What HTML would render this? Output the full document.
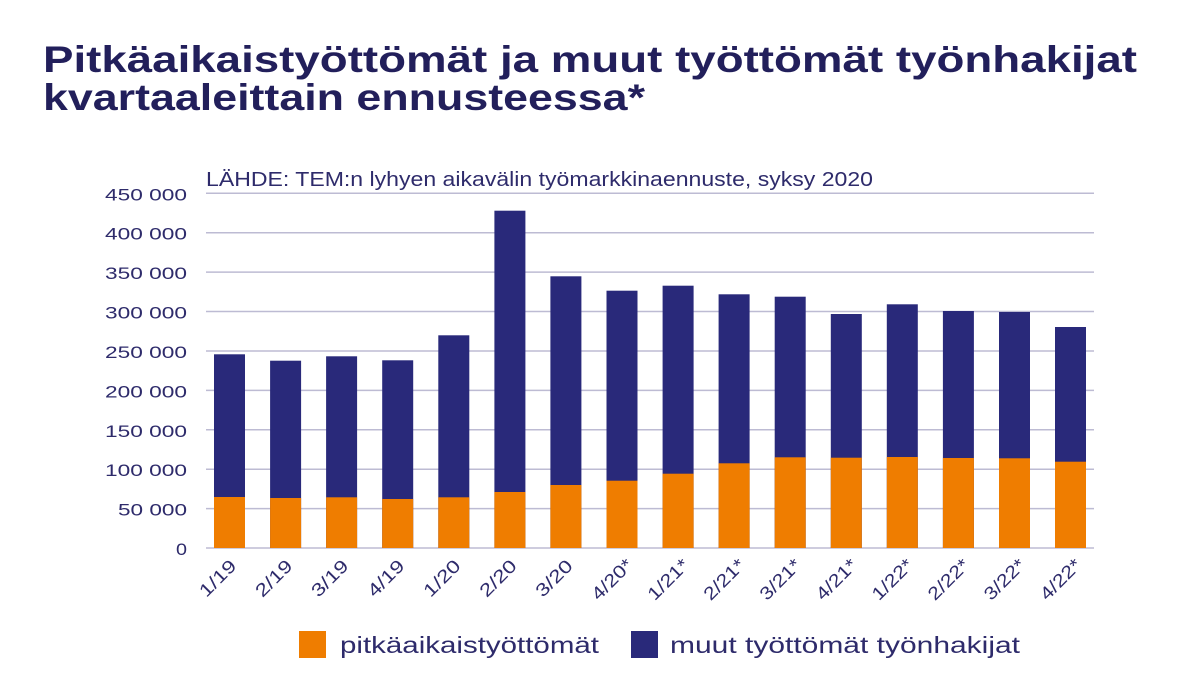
<!DOCTYPE html>
<html>
<head>
<meta charset="utf-8">
<style>
  html,body{margin:0;padding:0;background:#ffffff;}
  svg{display:block;}
  text{font-family:"Liberation Sans", sans-serif;}
</style>
</head>
<body>
<svg width="1200" height="675" viewBox="0 0 1200 675" xmlns="http://www.w3.org/2000/svg">
  <rect x="0" y="0" width="1200" height="675" fill="#ffffff"/>

  <!-- Title -->
  <text x="43" y="72" font-size="37" font-weight="bold" fill="#221f5b" textLength="1094" lengthAdjust="spacingAndGlyphs">Pitkäaikaistyöttömät ja muut työttömät työnhakijat</text>
  <text x="43" y="110" font-size="37" font-weight="bold" fill="#221f5b" textLength="602" lengthAdjust="spacingAndGlyphs">kvartaaleittain ennusteessa*</text>

  <!-- Source -->
  <text x="206" y="186" font-size="20" fill="#2e2b6b" textLength="667" lengthAdjust="spacingAndGlyphs">LÄHDE: TEM:n lyhyen aikavälin työmarkkinaennuste, syksy 2020</text>

  <!-- Gridlines -->
  <g stroke="#bdbbd3" stroke-width="1.5">
    <line x1="206" y1="193.3" x2="1094" y2="193.3"/>
    <line x1="206" y1="232.7" x2="1094" y2="232.7"/>
    <line x1="206" y1="272.1" x2="1094" y2="272.1"/>
    <line x1="206" y1="311.5" x2="1094" y2="311.5"/>
    <line x1="206" y1="351" x2="1094" y2="351"/>
    <line x1="206" y1="390.4" x2="1094" y2="390.4"/>
    <line x1="206" y1="429.8" x2="1094" y2="429.8"/>
    <line x1="206" y1="469.2" x2="1094" y2="469.2"/>
    <line x1="206" y1="508.6" x2="1094" y2="508.6"/>
    <line x1="206" y1="548" x2="1094" y2="548"/>
  </g>

  <!-- Y labels -->
  <g font-size="17" fill="#2e2b6b" text-anchor="end">
    <text x="187" y="200.3" textLength="82" lengthAdjust="spacingAndGlyphs">450 000</text>
    <text x="187" y="239.7" textLength="82" lengthAdjust="spacingAndGlyphs">400 000</text>
    <text x="187" y="279.1" textLength="82" lengthAdjust="spacingAndGlyphs">350 000</text>
    <text x="187" y="318.5" textLength="82" lengthAdjust="spacingAndGlyphs">300 000</text>
    <text x="187" y="358" textLength="82" lengthAdjust="spacingAndGlyphs">250 000</text>
    <text x="187" y="397.4" textLength="82" lengthAdjust="spacingAndGlyphs">200 000</text>
    <text x="187" y="436.8" textLength="82" lengthAdjust="spacingAndGlyphs">150 000</text>
    <text x="187" y="476.2" textLength="82" lengthAdjust="spacingAndGlyphs">100 000</text>
    <text x="187" y="515.6" textLength="69" lengthAdjust="spacingAndGlyphs">50 000</text>
    <text x="187" y="555" textLength="11" lengthAdjust="spacingAndGlyphs">0</text>
  </g>

  <!-- Bars -->
  <g>
    <!-- navy (full stack), orange on top of bottom part -->
    <rect x="214.0" y="354.3" width="31" height="193.7" fill="#29297a"/>
    <rect x="214.0" y="497.0" width="31" height="51.0" fill="#ef7d00"/>

    <rect x="270.1" y="360.7" width="31" height="187.3" fill="#29297a"/>
    <rect x="270.1" y="498.0" width="31" height="50.0" fill="#ef7d00"/>

    <rect x="326.1" y="356.3" width="31" height="191.7" fill="#29297a"/>
    <rect x="326.1" y="497.3" width="31" height="50.7" fill="#ef7d00"/>

    <rect x="382.2" y="360.3" width="31" height="187.7" fill="#29297a"/>
    <rect x="382.2" y="499.0" width="31" height="49.0" fill="#ef7d00"/>

    <rect x="438.3" y="335.3" width="31" height="212.7" fill="#29297a"/>
    <rect x="438.3" y="497.3" width="31" height="50.7" fill="#ef7d00"/>

    <rect x="494.4" y="210.7" width="31" height="337.3" fill="#29297a"/>
    <rect x="494.4" y="492.0" width="31" height="56.0" fill="#ef7d00"/>

    <rect x="550.4" y="276.3" width="31" height="271.7" fill="#29297a"/>
    <rect x="550.4" y="485.0" width="31" height="63.0" fill="#ef7d00"/>

    <rect x="606.5" y="290.7" width="31" height="257.3" fill="#29297a"/>
    <rect x="606.5" y="480.7" width="31" height="67.3" fill="#ef7d00"/>

    <rect x="662.6" y="285.7" width="31" height="262.3" fill="#29297a"/>
    <rect x="662.6" y="473.7" width="31" height="74.3" fill="#ef7d00"/>

    <rect x="718.6" y="294.3" width="31" height="253.7" fill="#29297a"/>
    <rect x="718.6" y="463.3" width="31" height="84.7" fill="#ef7d00"/>

    <rect x="774.7" y="296.7" width="31" height="251.3" fill="#29297a"/>
    <rect x="774.7" y="457.3" width="31" height="90.7" fill="#ef7d00"/>

    <rect x="830.8" y="314.0" width="31" height="234.0" fill="#29297a"/>
    <rect x="830.8" y="457.7" width="31" height="90.3" fill="#ef7d00"/>

    <rect x="886.8" y="304.3" width="31" height="243.7" fill="#29297a"/>
    <rect x="886.8" y="457.0" width="31" height="91.0" fill="#ef7d00"/>

    <rect x="942.9" y="311.0" width="31" height="237.0" fill="#29297a"/>
    <rect x="942.9" y="458.0" width="31" height="90.0" fill="#ef7d00"/>

    <rect x="999.0" y="312.0" width="31" height="236.0" fill="#29297a"/>
    <rect x="999.0" y="458.3" width="31" height="89.7" fill="#ef7d00"/>

    <rect x="1055.0" y="327.0" width="31" height="221.0" fill="#29297a"/>
    <rect x="1055.0" y="461.7" width="31" height="86.3" fill="#ef7d00"/>
  </g>

  <!-- X labels -->
  <g font-size="18" fill="#2e2b6b" text-anchor="end">
    <text transform="translate(237.5,567) rotate(-45)" textLength="44" lengthAdjust="spacingAndGlyphs">1/19</text>
    <text transform="translate(293.6,567) rotate(-45)" textLength="44" lengthAdjust="spacingAndGlyphs">2/19</text>
    <text transform="translate(349.6,567) rotate(-45)" textLength="44" lengthAdjust="spacingAndGlyphs">3/19</text>
    <text transform="translate(405.7,567) rotate(-45)" textLength="44" lengthAdjust="spacingAndGlyphs">4/19</text>
    <text transform="translate(461.8,567) rotate(-45)" textLength="44" lengthAdjust="spacingAndGlyphs">1/20</text>
    <text transform="translate(517.9,567) rotate(-45)" textLength="44" lengthAdjust="spacingAndGlyphs">2/20</text>
    <text transform="translate(573.9,567) rotate(-45)" textLength="44" lengthAdjust="spacingAndGlyphs">3/20</text>
    <text transform="translate(634.0,566) rotate(-45)" textLength="50" lengthAdjust="spacingAndGlyphs">4/20*</text>
    <text transform="translate(690.1,566) rotate(-45)" textLength="50" lengthAdjust="spacingAndGlyphs">1/21*</text>
    <text transform="translate(746.1,566) rotate(-45)" textLength="50" lengthAdjust="spacingAndGlyphs">2/21*</text>
    <text transform="translate(802.2,566) rotate(-45)" textLength="50" lengthAdjust="spacingAndGlyphs">3/21*</text>
    <text transform="translate(858.3,566) rotate(-45)" textLength="50" lengthAdjust="spacingAndGlyphs">4/21*</text>
    <text transform="translate(914.3,566) rotate(-45)" textLength="50" lengthAdjust="spacingAndGlyphs">1/22*</text>
    <text transform="translate(970.4,566) rotate(-45)" textLength="50" lengthAdjust="spacingAndGlyphs">2/22*</text>
    <text transform="translate(1026.5,566) rotate(-45)" textLength="50" lengthAdjust="spacingAndGlyphs">3/22*</text>
    <text transform="translate(1082.5,566) rotate(-45)" textLength="50" lengthAdjust="spacingAndGlyphs">4/22*</text>
  </g>

  <!-- Legend -->
  <rect x="299" y="631" width="27" height="27" fill="#ef7d00"/>
  <text x="340" y="653" font-size="23" fill="#2e2b6b" textLength="259" lengthAdjust="spacingAndGlyphs">pitkäaikaistyöttömät</text>
  <rect x="631" y="631" width="27" height="27" fill="#29297a"/>
  <text x="670" y="653" font-size="23" fill="#2e2b6b" textLength="350" lengthAdjust="spacingAndGlyphs">muut työttömät työnhakijat</text>
</svg>
</body>
</html>
